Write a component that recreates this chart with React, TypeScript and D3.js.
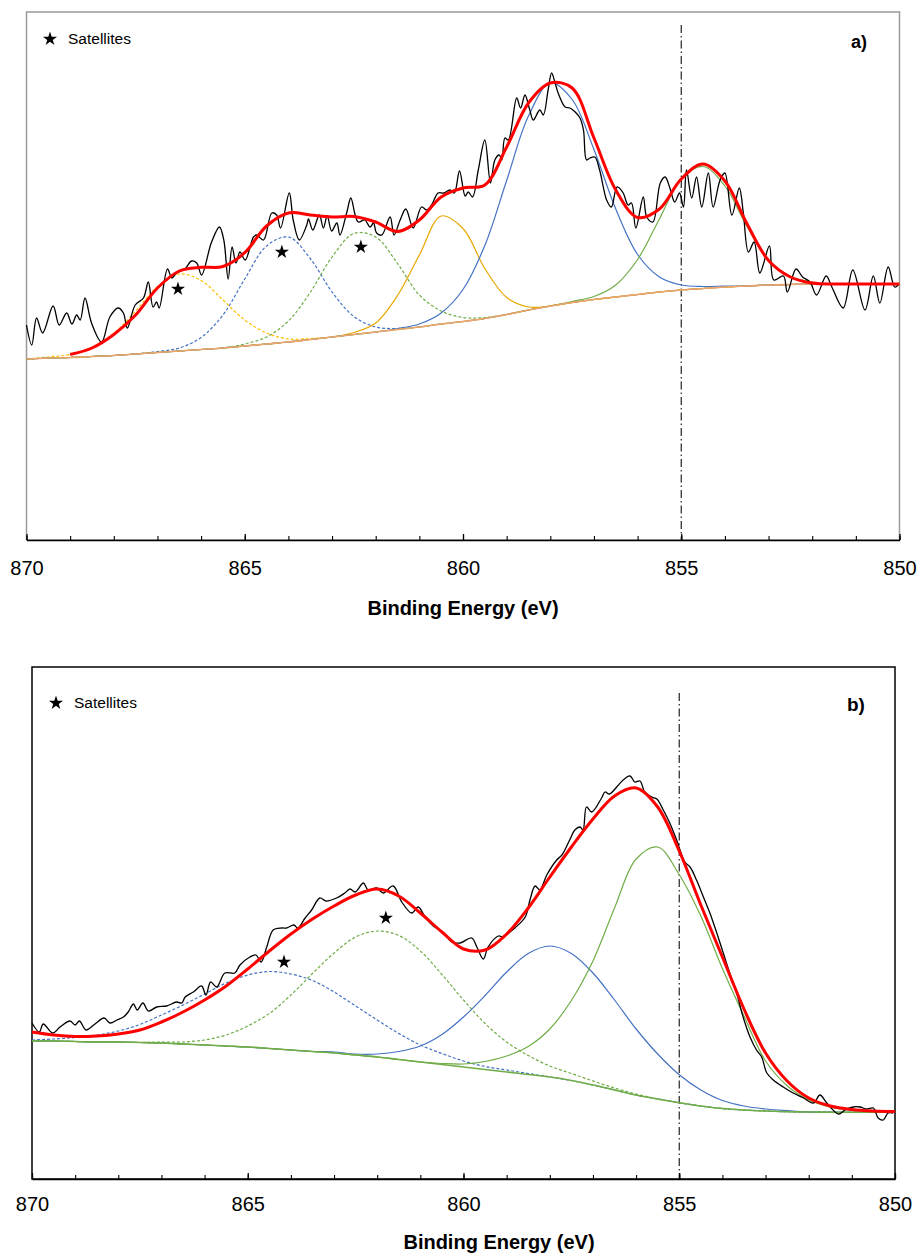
import React, { useEffect, useRef } from "react";
import * as d3 from "d3";

const W = 917;
const H = 1253;
const FONT = "'Liberation Sans', Arial, Helvetica, sans-serif";

// common energy grid of the fitted curves (eV)
const energies = [
  870, 869.5, 869, 868.5, 868, 867.5, 867, 866.5, 866, 865.5, 865, 864.5, 864, 863.5,
  863, 862.5, 862, 861.5, 861, 860.5, 860, 859.5, 859, 858.5, 858, 857.5, 857, 856.5,
  856, 855.5, 855, 854.5, 854, 853.5, 853, 852.5, 852, 851.5, 851, 850.5, 850,
];
const minorTicks = [
  870, 869, 868, 867, 866, 865, 864, 863, 862, 861, 860, 859, 858, 857, 856, 855, 854,
  853, 852, 851, 850,
];
const majorTicks = [870, 865, 860, 855, 850];
const refLineE = 855;

// ---------- panel a ----------
const bgA = [
  181, 182, 182.5, 183.5, 184.5, 186, 187.5, 189, 190.5, 192, 194, 196, 198, 200.5, 203,
  205.5, 208, 210.5, 213, 216, 218.5, 221.5, 225.5, 230, 234, 237.5, 240.5, 243, 245.5,
  248, 250, 251.5, 253, 254, 255, 255.5, 256, 256, 256, 256, 256,
];
const satYellowA = [
  0, 1, 3, 9, 22, 43, 66, 77, 69, 48, 26, 11, 3, 1, 0, 0, 0, 0, 0, 0, 0, 0, 0, 0, 0, 0, 0,
  0, 0, 0, 0, 0, 0, 0, 0, 0, 0, 0, 0, 0, 0,
];
const satBlueA = [
  0, 0, 0, 0, 0, 0, 1, 3, 12, 33, 67, 98, 105, 81, 45, 18, 5, 1, 0, 0, 0, 0, 0, 0, 0, 0,
  0, 0, 0, 0, 0, 0, 0, 0, 0, 0, 0, 0, 0, 0, 0,
];
const satGreenA = [
  0, 0, 0, 0, 0, 0, 0, 0, 0, 0, 2, 7, 21, 47, 80, 101, 95, 66, 32, 13, 4, 1, 0, 0, 0, 0,
  0, 0, 0, 0, 0, 0, 0, 0, 0, 0, 0, 0, 0, 0, 0,
];
const goldA = [
  0, 0, 0, 0, 0, 0, 0, 0, 0, 0, 0, 0, 0, 0, 0, 2, 9, 34, 72, 108, 93, 50, 17, 3, 0, 0, 0,
  0, 0, 0, 0, 0, 0, 0, 0, 0, 0, 0, 0, 0, 0,
];
const blueA = [
  0, 0, 0, 0, 0, 0, 0, 0, 0, 0, 0, 0, 0, 0, 0, 0, 0, 1, 3, 11, 32, 73, 134, 194, 223,
  203, 150, 88, 40, 15, 5, 2, 1, 0, 0, 0, 0, 0, 0, 0, 0,
];
const greenA = [
  0, 0, 0, 0, 0, 0, 0, 0, 0, 0, 0, 0, 0, 0, 0, 0, 0, 0, 0, 0, 0, 0, 0, 0, 0, 1, 3, 12, 35,
  73, 111, 122, 101, 60, 25, 8, 2, 0, 0, 0, 0,
];
// envelope, from 869 eV down to 850 eV
const fitA = [
  185.5, 192, 205.5, 225, 252, 269, 272.7, 273.5, 287.3, 314, 327, 325, 323, 323.5, 318,
  308.5, 320, 343, 352, 355, 393, 437, 457, 452, 402, 350, 322.5, 331, 361, 376, 359,
  316.7, 279.5, 263, 257, 256, 256, 256, 256,
];
const rawA: [number, number][] = [
  [870.0, 215], [869.88, 195], [869.77, 222], [869.63, 207], [869.39, 234], [869.25, 215],
  [869.08, 227], [868.96, 216], [868.85, 225], [868.77, 220], [868.66, 242], [868.51, 217],
  [868.28, 198], [868.09, 223], [867.9, 232], [867.78, 227], [867.69, 212], [867.51, 235],
  [867.32, 242], [867.21, 258], [867.1, 233], [867.02, 238], [866.96, 232], [866.77, 271],
  [866.67, 262], [866.56, 267], [866.37, 271], [866.22, 279], [866.1, 277], [865.99, 265],
  [865.76, 298], [865.58, 313], [865.48, 300], [865.38, 261], [865.29, 293], [865.2, 277],
  [865.11, 288], [864.99, 280], [864.8, 303], [864.73, 305], [864.57, 300], [864.38, 327],
  [864.27, 325], [864.18, 312], [863.98, 347], [863.89, 320], [863.75, 300], [863.58, 315],
  [863.54, 321], [863.44, 310], [863.29, 325], [863.2, 312], [863.11, 324], [863.01, 309],
  [862.89, 317], [862.82, 305], [862.66, 328], [862.57, 342], [862.47, 325], [862.4, 318],
  [862.25, 320], [862.13, 313], [862.05, 317], [861.98, 307], [861.86, 305], [861.67, 323],
  [861.58, 305], [861.44, 320], [861.31, 331], [861.14, 312], [860.95, 333], [860.83, 330],
  [860.72, 335], [860.57, 347], [860.44, 347], [860.3, 350], [860.2, 347], [860.08, 369],
  [859.95, 344], [859.88, 348], [859.78, 343], [859.65, 370], [859.5, 400], [859.37, 357],
  [859.27, 380], [859.17, 385], [859.11, 380], [859.04, 402], [858.96, 400], [858.77, 442],
  [858.68, 432], [858.58, 445], [858.47, 430], [858.39, 420], [858.24, 430], [858.16, 425],
  [858.05, 450], [857.97, 467], [857.89, 457], [857.82, 447], [857.66, 433], [857.55, 432],
  [857.43, 428], [857.32, 422], [857.24, 410], [857.17, 380], [857.09, 382], [856.98, 383],
  [856.87, 370], [856.71, 340], [856.6, 333], [856.47, 353], [856.33, 347], [856.22, 335],
  [856.14, 337], [856.04, 312], [855.87, 343], [855.79, 323], [855.65, 318], [855.48, 357],
  [855.37, 363], [855.26, 352], [855.15, 338], [855.04, 347], [854.95, 333], [854.88, 370],
  [854.76, 342], [854.65, 363], [854.53, 333], [854.38, 367], [854.27, 333], [854.11, 360],
  [854.0, 367], [853.84, 325], [853.67, 352], [853.58, 328], [853.46, 288], [853.33, 298],
  [853.2, 267], [852.98, 294], [852.88, 260], [852.66, 264], [852.57, 248], [852.37, 271],
  [852.22, 263], [852.05, 258], [851.9, 245], [851.68, 264], [851.55, 253], [851.29, 232],
  [851.07, 270], [850.79, 230], [850.6, 264], [850.45, 237], [850.26, 273], [850.11, 253],
  [850.03, 255],
];
const starsA: [number, number][] = [[866.53, 251], [864.15, 288], [862.34, 293]];

// ---------- panel b ----------
const bgB = [
  138, 138, 137.5, 137, 137, 136.5, 136, 135, 134, 133, 132, 130.5, 129, 127.5, 126, 124,
  122, 119.5, 117, 114.5, 112, 109.5, 107, 104.5, 102, 98.5, 94, 89, 84, 80, 76.3, 73,
  70.5, 69, 68, 67.3, 67, 66.8, 66.7, 66.7, 66.7,
];
const satBlueB = [
  1, 2, 4, 7, 11, 18, 28, 39, 51, 63, 72, 77, 76, 71, 61, 49, 37, 26, 17, 11, 6, 3, 2, 1,
  0, 0, 0, 0, 0, 0, 0, 0, 0, 0, 0, 0, 0, 0, 0, 0, 0,
];
const satGreenB = [
  0, 0, 0, 0, 0, 0, 1, 2, 5, 11, 21, 35, 55, 78, 100, 118, 126, 124, 111, 90, 67, 46, 30,
  19, 11, 7, 4, 2, 1, 0, 0, 0, 0, 0, 0, 0, 0, 0, 0, 0, 0,
];
const blueB = [
  0, 0, 0, 0, 0, 0, 0, 0, 0, 0, 0, 0, 0, 0, 1, 1, 3, 8, 16, 30, 50, 74, 100, 121, 131,
  127, 112, 90, 66, 45, 28, 16, 8, 4, 2, 1, 0, 0, 0, 0, 0,
];
const greenB = [
  0, 0, 0, 0, 0, 0, 0, 0, 0, 0, 0, 0, 0, 0, 0, 0, 0, 0, 0, 1, 3, 8, 16, 28, 48, 80, 124,
  182, 236, 252, 228, 190, 140, 94, 50, 26, 12, 5, 2, 1, 0,
];
const fitB = [
  147, 144, 142.5, 143, 145, 149, 157, 167, 179, 193, 210, 228, 245, 260, 273, 284, 290,
  283, 266, 247, 230, 229, 245, 271, 302, 332, 360, 383, 391, 372, 328, 274, 222, 170,
  126, 98, 81, 73, 69.5, 68, 67.5,
];
const rawB: [number, number][] = [
  [870.0, 156], [869.83, 147], [869.74, 155], [869.52, 146], [869.35, 152], [869.12, 158],
  [869.0, 154], [868.9, 158], [868.75, 149], [868.54, 155], [868.33, 161], [868.19, 156],
  [868.03, 159], [867.88, 162], [867.77, 167], [867.65, 175], [867.56, 169], [867.43, 176],
  [867.3, 168], [867.11, 172], [866.88, 173], [866.65, 177], [866.53, 176], [866.45, 182],
  [866.26, 187], [866.07, 193], [865.97, 184], [865.86, 197], [865.72, 192], [865.53, 206],
  [865.3, 206], [865.18, 214], [864.95, 222], [864.81, 224], [864.69, 217], [864.56, 232],
  [864.41, 249], [864.21, 251], [864.1, 251], [863.93, 254], [863.84, 251], [863.67, 261],
  [863.52, 269], [863.33, 281], [863.19, 278], [862.94, 281], [862.75, 286], [862.63, 290],
  [862.51, 287], [862.32, 296], [862.21, 289], [862.01, 291], [861.86, 286], [861.63, 293],
  [861.43, 277], [861.2, 266], [861.05, 272], [860.89, 262], [860.7, 253], [860.47, 246],
  [860.27, 237], [860.08, 236], [859.81, 241], [859.69, 232], [859.54, 220], [859.43, 232],
  [859.19, 243], [859.08, 242], [858.92, 247], [858.81, 251], [858.57, 262], [858.46, 279],
  [858.34, 293], [858.23, 289], [858.07, 304], [857.84, 319], [857.72, 324], [857.54, 339],
  [857.42, 349], [857.3, 352], [857.23, 349], [857.15, 372], [857.03, 367], [856.8, 381],
  [856.72, 387], [856.62, 385], [856.45, 392], [856.3, 399], [856.14, 403], [856.03, 397],
  [855.91, 398], [855.8, 387], [855.64, 382], [855.52, 380], [855.37, 369], [855.22, 356],
  [855.06, 339], [854.87, 317], [854.75, 312], [854.6, 299], [854.44, 282], [854.29, 266],
  [854.13, 246], [853.98, 226], [853.83, 206], [853.67, 186], [853.52, 162], [853.36, 142],
  [853.21, 129], [853.09, 122], [852.97, 106], [852.82, 99], [852.59, 92], [852.36, 86],
  [852.12, 81], [851.89, 76], [851.74, 84], [851.58, 76], [851.31, 65], [851.16, 69],
  [850.97, 72], [850.81, 72], [850.66, 70], [850.5, 71], [850.39, 61], [850.27, 59],
  [850.16, 66], [850.04, 66],
];
const starsB: [number, number][] = [[864.16, 217], [861.8, 261]];

type Comp = { values: number[]; color: string; dashed: boolean };
type Panel = {
  left: number; right: number; top: number; bottom: number; yMax: number;
  frame: string; bg: number[]; bgColor: string; comps: Comp[];
  fit: number[]; raw: [number, number][]; stars: [number, number][];
  tag: string; tagX: number; tagY: number; tagSize: number;
  legendX: number; legendY: number; refTop: number;
  tickPad: number; titleX: number; titleY: number;
};

function drawPanel(g: d3.Selection<SVGGElement, unknown, null, undefined>, p: Panel) {
  const x = d3.scaleLinear().domain([870, 850]).range([p.left, p.right]);
  const y = d3.scaleLinear().domain([0, p.yMax]).range([p.bottom, p.top]);
  const line = d3
    .line<[number, number]>()
    .x((d) => x(d[0]))
    .y((d) => y(d[1]))
    .curve(d3.curveCatmullRom.alpha(0.5));

  g.append("rect")
    .attr("x", p.left).attr("y", p.top)
    .attr("width", p.right - p.left).attr("height", p.bottom - p.top)
    .attr("fill", "none").attr("stroke", p.frame).attr("stroke-width", 1.5);

  g.append("line")
    .attr("x1", x(refLineE)).attr("x2", x(refLineE))
    .attr("y1", p.refTop).attr("y2", p.bottom)
    .attr("stroke", "#222").attr("stroke-width", 1.2)
    .attr("stroke-dasharray", "8,3,1.5,3");

  p.comps.forEach((c) => {
    const pts = energies.map((e, i) => [e, p.bg[i] + c.values[i]] as [number, number]);
    g.append("path")
      .attr("d", line(pts))
      .attr("fill", "none")
      .attr("stroke", c.color)
      .attr("stroke-width", 1.2)
      .attr("stroke-dasharray", c.dashed ? "3,2" : null);
  });

  g.append("path")
    .attr("d", line(energies.map((e, i) => [e, p.bg[i]] as [number, number])))
    .attr("fill", "none").attr("stroke", p.bgColor).attr("stroke-width", 1.6);

  g.append("path")
    .attr("d", line(p.raw))
    .attr("fill", "none").attr("stroke", "#000").attr("stroke-width", 1.3);

  const fitE = energies.slice(energies.length - p.fit.length);
  g.append("path")
    .attr("d", line(fitE.map((e, i) => [e, p.fit[i]] as [number, number])))
    .attr("fill", "none").attr("stroke", "#ff0000").attr("stroke-width", 3);

  const star = d3.symbol().type(d3.symbolStar).size(62);
  g.selectAll(".star")
    .data(p.stars)
    .join("path")
    .attr("class", "star")
    .attr("d", star)
    .attr("transform", (d) => `translate(${x(d[0])},${y(d[1])})`)
    .attr("fill", "#000");

  g.append("path")
    .attr("d", star)
    .attr("transform", `translate(${p.legendX},${p.legendY})`)
    .attr("fill", "#000");
  g.append("text")
    .attr("x", p.legendX + 18).attr("y", p.legendY + 5)
    .attr("font-family", FONT).attr("font-size", 15.5)
    .text("Satellites");

  g.append("text")
    .attr("x", p.tagX).attr("y", p.tagY)
    .attr("font-family", FONT).attr("font-size", p.tagSize).attr("font-weight", "bold")
    .text(p.tag);

  const minor = g.append("g")
    .attr("transform", `translate(0,${p.bottom})`)
    .call(d3.axisBottom(x).tickValues(minorTicks).tickSize(-4).tickSizeOuter(0).tickFormat(() => ""));
  minor.select(".domain").attr("stroke-width", 1.6);
  minor.selectAll(".tick line").attr("stroke-width", 1.1);

  const major = g.append("g")
    .attr("transform", `translate(0,${p.bottom})`)
    .call(
      d3.axisBottom(x).tickValues(majorTicks).tickSize(-6).tickSizeOuter(0)
        .tickPadding(p.tickPad).tickFormat(d3.format("d"))
    );
  major.select(".domain").remove();
  major.selectAll(".tick line").attr("stroke-width", 1.3);
  major.selectAll("text").attr("font-family", FONT).attr("font-size", 20).attr("fill", "#000");

  g.append("text")
    .attr("x", p.titleX).attr("y", p.titleY)
    .attr("text-anchor", "middle")
    .attr("font-family", FONT).attr("font-size", 20).attr("font-weight", "bold")
    .text("Binding Energy (eV)");
}

const App = () => {
  const svgRef = useRef<SVGSVGElement>(null);

  useEffect(() => {
    const svg = d3.select(svgRef.current);
    svg.selectAll("*").remove();

    drawPanel(svg.append("g"), {
      left: 26.5, right: 899.5, top: 12, bottom: 540, yMax: 528,
      frame: "#9a9a9a", bg: bgA, bgColor: "#eea46c",
      comps: [
        { values: satYellowA, color: "#ffc000", dashed: true },
        { values: satBlueA, color: "#4472c4", dashed: true },
        { values: satGreenA, color: "#70ad47", dashed: true },
        { values: goldA, color: "#e9a800", dashed: false },
        { values: blueA, color: "#4472c4", dashed: false },
        { values: greenA, color: "#70ad47", dashed: false },
      ],
      fit: fitA, raw: rawA, stars: starsA,
      tag: "a)", tagX: 851, tagY: 48, tagSize: 18,
      legendX: 50, legendY: 39, refTop: 25,
      tickPad: 21, titleX: 463, titleY: 615,
    });

    drawPanel(svg.append("g"), {
      left: 32, right: 895, top: 667, bottom: 1179, yMax: 512,
      frame: "#000", bg: bgB, bgColor: "#70ad47",
      comps: [
        { values: satBlueB, color: "#4472c4", dashed: true },
        { values: satGreenB, color: "#70ad47", dashed: true },
        { values: blueB, color: "#4472c4", dashed: false },
        { values: greenB, color: "#70ad47", dashed: false },
      ],
      fit: fitB, raw: rawB, stars: starsB,
      tag: "b)", tagX: 847, tagY: 711, tagSize: 19,
      legendX: 56, legendY: 703, refTop: 693,
      tickPad: 18, titleX: 499, titleY: 1249,
    });
  }, []);

  return (
    <svg
      ref={svgRef}
      width={W}
      height={H}
      style={{ position: "absolute", left: 0, top: 0, background: "#fff" }}
    />
  );
};

export default App;
